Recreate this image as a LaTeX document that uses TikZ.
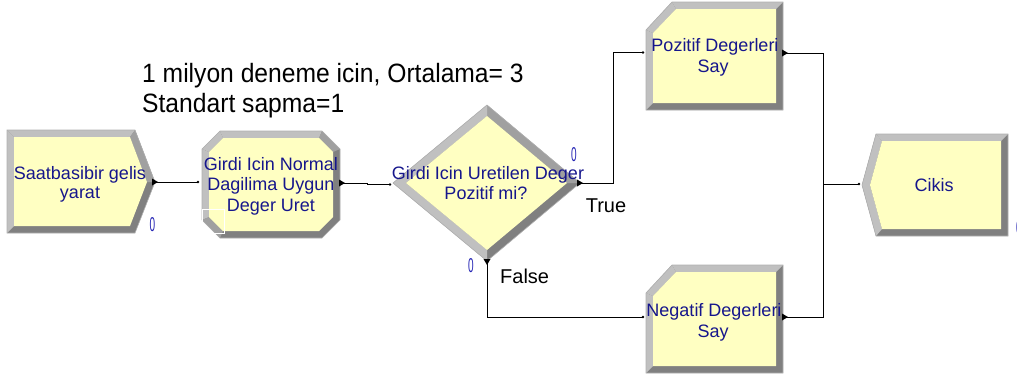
\documentclass[tikz,border=0pt]{standalone}
\usepackage{fontspec}
\setmainfont{Liberation Sans}
\definecolor{face}{RGB}{255,255,194}
\definecolor{bevlight}{RGB}{192,192,192}
\definecolor{bevmid}{RGB}{160,160,160}
\definecolor{bevdark}{RGB}{128,128,128}
\definecolor{rim}{RGB}{176,176,176}
\definecolor{modtext}{RGB}{22,22,140}
\definecolor{counter}{RGB}{36,36,180}
\tikzset{
  modlabel/.style={anchor=base, inner sep=0pt, text=modtext,
    font=\fontsize{18}{20}\selectfont},
  note/.style={anchor=base west, inner sep=0pt, text=black,
    font=\fontsize{26.5}{30}\selectfont},
  branch/.style={anchor=base, inner sep=0pt, text=black,
    font=\fontsize{20}{24}\selectfont},
  countlabel/.style={inner sep=0pt, text=counter,
    font=\fontsize{20}{24}\selectfont},
  link/.style={draw=black, line width=0.8pt},
  rimline/.style={draw=rim, line width=0.6pt},
  exitR/.pic={\fill[black] (-2,-3.5) -- (4,0) -- (-2,3.5) -- cycle;},
  exitD/.pic={\fill[black] (-3.5,-2) -- (0,4) -- (3.5,-2) -- cycle;},
  entrydot/.pic={\fill[black] (0,0) circle (1.4);}
}
\newcommand{\zerolabel}{\scalebox{0.5}[1]{0}}
\newcommand{\narrowtext}[1]{\scalebox{0.93}[1]{#1}}
\begin{document}
\begin{tikzpicture}[x=1pt,y=-1pt]
\useasboundingbox (0,0) rectangle (1017,378);
\clip (0,0) rectangle (1017,378);

% ---------- Create: Saatbasibir gelis yarat ----------
\fill[bevdark] (7,130) -- (135,130) -- (155,182) -- (135,233) -- (7,233) -- cycle;
\fill[bevlight] (7,130) -- (135,130) -- (130,137) -- (14,137) -- cycle;
\fill[bevlight] (7,130) -- (14,137) -- (14,226) -- (7,233) -- cycle;
\fill[bevmid] (135,130) -- (155,182) -- (147,182) -- (130,137) -- cycle;
\fill[face] (14,137) -- (130,137) -- (147,182) -- (130,226) -- (14,226) -- cycle;
\path[rimline] (7,130) -- (135,130) -- (155,182) -- (135,233) -- (7,233) -- cycle;
\node[modlabel] (create-l1) at (80,179) {Saatbasibir gelis};
\node[modlabel] (create-l2) at (80,198) {yarat};
\node[countlabel] (create-count) at (152.5,224.5) {\zerolabel};

% ---------- Process: Girdi Icin Normal Dagilima Uygun Deger Uret ----------
\fill[bevdark] (220,131) -- (322,131) -- (340,149) -- (340,220) -- (322,238) -- (220,238) -- (202,220) -- (202,149) -- cycle;
\fill[bevlight] (220,131) -- (322,131) -- (319,138) -- (223,138) -- cycle;
\fill[bevlight] (202,149) -- (220,131) -- (223,138) -- (209,152) -- cycle;
\fill[bevlight] (202,149) -- (209,152) -- (209,217) -- (202,220) -- cycle;
\fill[bevmid] (322,131) -- (340,149) -- (333,152) -- (319,138) -- cycle;
\fill[bevmid] (220,238) -- (202,220) -- (209,217) -- (223,231) -- cycle;
\fill[face] (223,138) -- (319,138) -- (333,152) -- (333,217) -- (319,231) -- (223,231) -- (209,217) -- (209,152) -- cycle;
\path[rimline] (220,131) -- (322,131) -- (340,149) -- (340,220) -- (322,238) -- (220,238) -- (202,220) -- (202,149) -- cycle;
\draw[white, line width=0.8pt] (202,209) rectangle (224,233);
\node[modlabel] (proc-l1) at (271,170) {Girdi Icin Normal};
\node[modlabel] (proc-l2) at (271,190.5) {Dagilima Uygun};
\node[modlabel] (proc-l3) at (271,211) {Deger Uret};

% ---------- Decide: Girdi Icin Uretilen Deger Pozitif mi? ----------
\fill[bevdark] (487,105) -- (580,183) -- (487,261) -- (393,183) -- cycle;
\fill[bevmid] (487,105) -- (580,183) -- (567,183) -- (487,116) -- cycle;
\fill[bevlight] (393,183) -- (487,105) -- (487,116) -- (406,183) -- cycle;
\fill[bevlight] (393,183) -- (406,183) -- (487,250) -- (487,261) -- cycle;
\fill[face] (487,116) -- (567,183) -- (487,250) -- (406,183) -- cycle;
\path[rimline] (487,105) -- (580,183) -- (487,261) -- (393,183) -- cycle;
\node[modlabel] (dec-l1) at (488,179.5) {Girdi Icin Uretilen Deger};
\node[modlabel] (dec-l2) at (486,199.5) {Pozitif mi?};
\node[countlabel] (dec-count-true) at (574,155) {\zerolabel};
\node[countlabel] (dec-count-false) at (471,266) {\zerolabel};
\node[branch] (true-label) at (606,212) {True};
\node[branch, anchor=base west] (false-label) at (500,283) {False};

% ---------- Record: Pozitif Degerleri Say ----------
\fill[bevdark] (672,2) -- (783,2) -- (783,110) -- (646,110) -- (646,30) -- cycle;
\fill[bevlight] (672,2) -- (783,2) -- (776,9) -- (676,9) -- cycle;
\fill[bevlight] (646,30) -- (672,2) -- (676,9) -- (653,33) -- cycle;
\fill[bevlight] (646,30) -- (653,33) -- (653,103) -- (646,110) -- cycle;
\fill[face] (676,9) -- (776,9) -- (776,103) -- (653,103) -- (653,33) -- cycle;
\path[rimline] (672,2) -- (783,2) -- (783,110) -- (646,110) -- (646,30) -- cycle;
\node[modlabel] (pos-l1) at (715,51.5) {Pozitif Degerleri};
\node[modlabel] (pos-l2) at (713,72.5) {Say};

% ---------- Record: Negatif Degerleri Say ----------
\fill[bevdark] (672,265) -- (783,265) -- (783,373) -- (646,373) -- (646,293) -- cycle;
\fill[bevlight] (672,265) -- (783,265) -- (776,272) -- (676,272) -- cycle;
\fill[bevlight] (646,293) -- (672,265) -- (676,272) -- (653,296) -- cycle;
\fill[bevlight] (646,293) -- (653,296) -- (653,366) -- (646,373) -- cycle;
\fill[face] (676,272) -- (776,272) -- (776,366) -- (653,366) -- (653,296) -- cycle;
\path[rimline] (672,265) -- (783,265) -- (783,373) -- (646,373) -- (646,293) -- cycle;
\node[modlabel] (neg-l1) at (714,316.5) {Negatif Degerleri};
\node[modlabel] (neg-l2) at (713,337) {Say};

% ---------- Dispose: Cikis ----------
\fill[bevdark] (876,134) -- (1008,134) -- (1008,236) -- (876,236) -- (862,185) -- cycle;
\fill[bevlight] (876,134) -- (1008,134) -- (1001,141) -- (882,141) -- cycle;
\fill[bevlight] (862,185) -- (876,134) -- (882,141) -- (870,185) -- cycle;
\fill[bevlight] (862,185) -- (870,185) -- (882,229) -- (876,236) -- cycle;
\fill[face] (882,141) -- (1001,141) -- (1001,229) -- (882,229) -- (870,185) -- cycle;
\path[rimline] (876,134) -- (1008,134) -- (1008,236) -- (876,236) -- (862,185) -- cycle;
\node[modlabel] (disp-l1) at (934,191) {Cikis};
\node[countlabel] (disp-count) at (1019,228) {\zerolabel};

% ---------- Note ----------
\node[note] (note-l1) at (142,82) {\narrowtext{1 milyon deneme icin, Ortalama= 3}};
\node[note] (note-l2) at (142,112) {\narrowtext{Standart sapma=1}};

% ---------- Ports ----------
\coordinate (create-out) at (154,182);
\coordinate (proc-in) at (198,182);
\coordinate (proc-out) at (341,183);
\coordinate (dec-in) at (390,184.5);
\coordinate (dec-true) at (579,183);
\coordinate (dec-false) at (487,261);
\coordinate (pos-in) at (643,52.5);
\coordinate (pos-out) at (784,53);
\coordinate (neg-in) at (643,317);
\coordinate (neg-out) at (784,317);
\coordinate (disp-in) at (859,184);

% ---------- Connectors ----------
\draw[link] (create-out) -- (proc-in);
\draw[link] (proc-out) -- ++(26,0) |- (dec-in);
\draw[link] (dec-true) -- ++(34,0) |- (pos-in);
\draw[link] (dec-false) |- (neg-in);
\draw[link] (pos-out) -- ++(39,0) |- (disp-in);
\draw[link] (neg-out) -- ++(39,0) |- (disp-in);

\pic at (create-out) {exitR};
\pic at (proc-out) {exitR};
\pic at (dec-true) {exitR};
\pic at (dec-false) {exitD};
\pic at (pos-out) {exitR};
\pic at (neg-out) {exitR};
\pic at (proc-in) {entrydot};
\pic at (dec-in) {entrydot};
\pic at (pos-in) {entrydot};
\pic at (neg-in) {entrydot};
\pic at (disp-in) {entrydot};
\end{tikzpicture}
\end{document}
